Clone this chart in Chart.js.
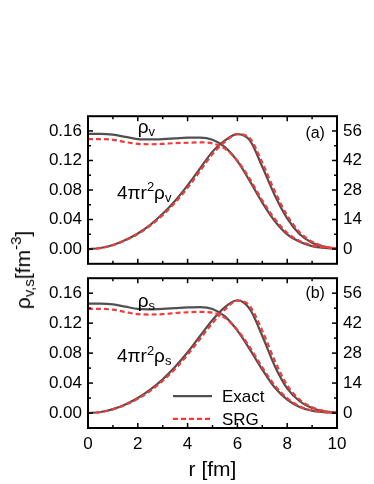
<!DOCTYPE html>
<html>
<head>
<meta charset="utf-8">
<script src="https://cdn.jsdelivr.net/npm/chart.js@4.4.0/dist/chart.umd.min.js"></script>
<style>
    html, body { margin: 0; padding: 0; background: #fff; }
    #wrap { position: relative; width: 374px; height: 484px; overflow: hidden; font-family: "Liberation Sans", Arial, sans-serif; }
    canvas { position: absolute; left: 0; }
    #ytitle {
        position: absolute; left: 22px; top: 270px;
        transform: translate(-50%, -50%) rotate(-90deg);
        font-size: 21px; white-space: nowrap; line-height: 1;
    }
    #ytitle sub { font-size: 15px; vertical-align: -4px; }
    #ytitle sup { font-size: 15px; vertical-align: 9px; }
</style>
</head>
<body>
<div id="wrap">
    <canvas id="top-chart" width="374" height="180" style="top:100px"></canvas>
    <canvas id="bot-chart" width="374" height="222" style="top:262px"></canvas>
    <div id="ytitle">ρ<sub>v,s</sub>[fm<sup>-3</sup>]</div>
</div>
<script>
// radius grid (fm)
const rVals = [0, 0.5, 1, 1.5, 2, 2.5, 3, 3.5, 4, 4.5, 5, 5.5, 6, 6.5, 7, 7.5, 8, 8.5, 9, 9.5, 10];

// (a) vector density [fm^-3] and 4πr²ρv (right axis)
const rhoVExact = [0.156, 0.156, 0.155, 0.152, 0.149, 0.1485, 0.149, 0.150, 0.151, 0.151, 0.148, 0.138, 0.119, 0.092, 0.063, 0.038, 0.020, 0.010, 0.004, 0.0015, 0.0005];
const rhoVSrg   = [0.149, 0.149, 0.148, 0.145, 0.1425, 0.142, 0.1425, 0.1435, 0.144, 0.1445, 0.143, 0.136, 0.120, 0.095, 0.066, 0.041, 0.022, 0.011, 0.005, 0.002, 0.0005];
const r2RhoVExact = [0, 0.5, 1.9, 4.3, 7.4, 11.5, 16.7, 22.9, 30.2, 38.2, 46.2, 51.5, 54.5, 51.5, 39, 25.5, 14.5, 7, 3, 1, 0.3];
const r2RhoVSrg   = [0, 0.45, 1.8, 4.1, 7.1, 11.1, 16.0, 22.0, 29.0, 37.0, 45.0, 50.8, 54.5, 52.5, 41, 27.5, 16, 8, 3.5, 1.2, 0.3];

// (b) scalar density
const rhoSExact = [0.146, 0.146, 0.145, 0.142, 0.139, 0.1385, 0.139, 0.140, 0.141, 0.1415, 0.139, 0.129, 0.110, 0.085, 0.058, 0.034, 0.018, 0.008, 0.003, 0.001, 0.0003];
const rhoSSrg   = [0.139, 0.139, 0.138, 0.135, 0.132, 0.1315, 0.132, 0.1335, 0.1345, 0.135, 0.134, 0.127, 0.111, 0.088, 0.061, 0.037, 0.020, 0.009, 0.0035, 0.0012, 0.0003];
const r2RhoSExact = [0, 0.46, 1.8, 4.0, 7.0, 10.9, 15.7, 21.6, 28.4, 36.0, 43.5, 49.5, 52.7, 48.5, 36, 22, 11.5, 5.5, 2.3, 0.8, 0.2];
const r2RhoSSrg   = [0, 0.44, 1.7, 3.8, 6.6, 10.3, 15.0, 20.6, 27.2, 34.6, 42.0, 48.3, 52.5, 50.0, 38.5, 24.5, 13, 6.3, 2.7, 0.9, 0.2];

// ticks
const xTicks = [0, 2, 4, 6, 8, 10];
const xMinor = [1, 3, 5, 7, 9];
const leftTicks = [0, 0.04, 0.08, 0.12, 0.16];
const leftLabels = ['0.00', '0.04', '0.08', '0.12', '0.16'];
const leftMinor = [0.02, 0.06, 0.10, 0.14];
const rightTicks = [0, 14, 28, 42, 56];
const rightMinor = [7, 21, 35, 49];

const FONT = '"Liberation Sans", Arial, sans-serif';
const GRAY = '#505050';
const RED = '#f23c3c';

const pts = (ys) => rVals.map((x, i) => ({ x, y: ys[i] }));

const exactStyle = { borderColor: GRAY, borderWidth: 2.2, pointRadius: 0, cubicInterpolationMode: 'monotone', order: 1 };
const srgStyle = { borderColor: RED, borderWidth: 2.2, borderDash: [5, 3], pointRadius: 0, cubicInterpolationMode: 'monotone', order: 0 };

function richText(ctx, parts, x, y) {
    let cx = x;
    parts.forEach(([t, size, dy]) => {
        ctx.font = `${size}px ${FONT}`;
        ctx.fillText(t, cx, y + dy);
        cx += ctx.measureText(t).width;
    });
}

// frame, inward ticks, annotations
const decoPlugin = {
    id: 'deco',
    afterDatasetsDraw(chart, args, opts) {
        const { ctx, chartArea: a, scales } = chart;
        const line = (x1, y1, x2, y2) => { ctx.beginPath(); ctx.moveTo(x1, y1); ctx.lineTo(x2, y2); ctx.stroke(); };
        ctx.save();
        ctx.strokeStyle = '#000';
        ctx.lineWidth = 1.5;
        [...xTicks, ...xMinor].forEach(v => {
            const len = xTicks.includes(v) ? 5 : 3;
            const px = scales.x.getPixelForValue(v);
            line(px, a.bottom, px, a.bottom - len);
            line(px, a.top, px, a.top + len);
        });
        [...leftTicks, ...leftMinor].forEach(v => {
            const len = leftTicks.includes(v) ? 5 : 3;
            const py = scales.y.getPixelForValue(v);
            line(a.left, py, a.left + len, py);
        });
        [...rightTicks, ...rightMinor].forEach(v => {
            const len = rightTicks.includes(v) ? 5 : 3;
            const py = scales.y2.getPixelForValue(v);
            line(a.right, py, a.right - len, py);
        });
        ctx.lineWidth = 2;
        ctx.strokeRect(a.left, a.top, a.right - a.left, a.bottom - a.top);

        ctx.fillStyle = '#000';
        ctx.textAlign = 'left';
        ctx.textBaseline = 'alphabetic';
        const X = v => scales.x.getPixelForValue(v);
        const Y = v => scales.y.getPixelForValue(v);
        const sub = opts.sub;
        richText(ctx, [['ρ', 19, 0], [sub, 13, 3.5]], X(2.0), Y(opts.rhoY));
        richText(ctx, [['4πr', 19, 0], ['2', 13, -7.5], ['ρ', 19, 0], [sub, 13, 3]], X(1.16), Y(opts.shellY));
        ctx.font = `16px ${FONT}`;
        ctx.fillText(opts.tag, X(8.73), Y(opts.tagY));

        if (opts.legend) {
            const lx = a.left + 85, ly1 = a.top + 118, ly2 = a.top + 140.7;
            ctx.lineWidth = 2.2;
            ctx.strokeStyle = GRAY;
            line(lx, ly1, lx + 39, ly1);
            ctx.strokeStyle = RED;
            ctx.setLineDash([5, 3]);
            line(lx, ly2, lx + 39, ly2);
            ctx.setLineDash([]);
            ctx.font = `17px ${FONT}`;
            ctx.fillText('Exact', lx + 49, ly1 + 6);
            ctx.fillText('SRG', lx + 49, ly2 + 6);
        }
        ctx.restore();
    }
};

function makePanel(id, series, deco, bottom) {
    return new Chart(document.getElementById(id), {
        type: 'line',
        data: {
            datasets: [
                { label: 'Exact ρ', data: pts(series[0]), yAxisID: 'y', ...exactStyle },
                { label: 'SRG ρ', data: pts(series[1]), yAxisID: 'y', ...srgStyle },
                { label: 'Exact 4πr²ρ', data: pts(series[2]), yAxisID: 'y2', ...exactStyle },
                { label: 'SRG 4πr²ρ', data: pts(series[3]), yAxisID: 'y2', ...srgStyle },
            ],
        },
        options: {
            responsive: false, animation: false,
            layout: { padding: bottom ? { top: 10, bottom: 0 } : { top: 15, bottom: 8 } },
            plugins: { legend: { display: false }, tooltip: { enabled: false }, deco },
            scales: {
                x: {
                    type: 'linear', min: 0, max: 10, display: bottom,
                    grid: { display: false, drawTicks: false }, border: { display: false },
                    afterBuildTicks: s => { s.ticks = xTicks.map(value => ({ value })); },
                    afterFit: s => { s.height = bottom ? 56 : 0; },
                    ticks: { padding: 6, color: '#000', font: { family: FONT, size: 17 } },
                    title: { display: true, text: 'r [fm]', color: '#000', font: { family: FONT, size: 21 }, padding: { top: 0, bottom: 1 } },
                },
                y: {
                    position: 'left', min: -0.02, max: 0.18,
                    grid: { display: false, drawTicks: false }, border: { display: false },
                    afterBuildTicks: s => { s.ticks = leftTicks.map(value => ({ value })); },
                    afterFit: s => { s.width = 88; },
                    ticks: { padding: 6, color: '#000', font: { family: FONT, size: 17 },
                             callback: (v) => leftLabels[leftTicks.indexOf(v)] },
                },
                y2: {
                    position: 'right', min: -7, max: 63,
                    grid: { display: false, drawTicks: false }, border: { display: false },
                    afterBuildTicks: s => { s.ticks = rightTicks.map(value => ({ value })); },
                    afterFit: s => { s.width = 37; },
                    ticks: { padding: 6, color: '#000', font: { family: FONT, size: 17 } },
                },
            },
        },
        plugins: [decoPlugin],
    });
}

makePanel('top-chart', [rhoVExact, rhoVSrg, r2RhoVExact, r2RhoVSrg],
    { sub: 'v', rhoY: 0.1574, shellY: 0.0684, tag: '(a)', tagY: 0.150, legend: false }, false);
makePanel('bot-chart', [rhoSExact, rhoSSrg, r2RhoSExact, r2RhoSSrg],
    { sub: 's', rhoY: 0.142, shellY: 0.0675, tag: '(b)', tagY: 0.153, legend: true }, true);
</script>
</body>
</html>
